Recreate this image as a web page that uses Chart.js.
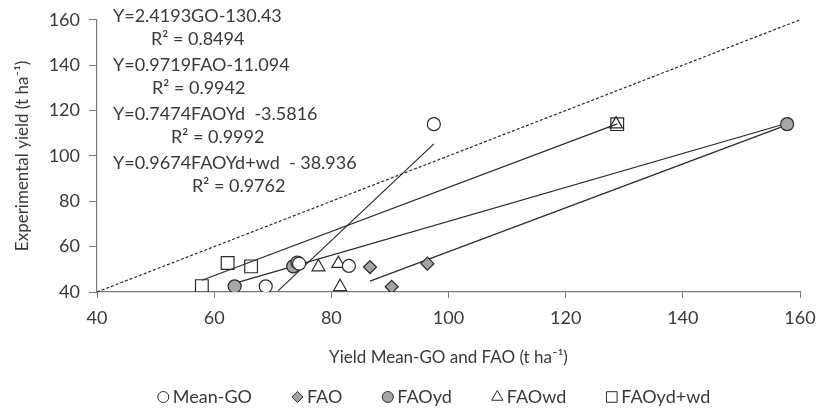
<!DOCTYPE html>
<html>
<head>
<meta charset="utf-8">
<script src="https://cdn.jsdelivr.net/npm/chart.js@4"></script>
<style>
  html, body { margin: 0; padding: 0; background: #fff; }
  #wrap { width: 817px; height: 409px; }
</style>
</head>
<body>
<div id="wrap"><canvas id="chart"></canvas></div>
<script>
// points (x = model yield, y = experimental yield)
const meanGoX = [68.8, 74.5, 83.0, 97.5];
const meanGoY = [42.5, 52.5, 51.5, 114];
const faoX = [86.6, 90.3, 96.4];
const faoY = [51.0, 42.3, 52.5];
const faoYdX = [63.5, 73.5, 74.2, 157.8];
const faoYdY = [42.5, 51.3, 53.0, 114];
const faoWdX = [77.8, 81.2, 81.5, 128.6];
const faoWdY = [51.0, 52.5, 42.3, 114];
const faoYdWdX = [57.9, 62.3, 66.3, 128.8];
const faoYdWdY = [42.6, 52.8, 51.3, 114];

// fitted lines, start/end as drawn
const lineGo = [[70.9, 40.5], [97.5, 105.3]];
const lineFao = [[57.9, 45.2], [128.8, 114.1]];
const lineYd = [[63.0, 43.5], [157.8, 114.4]];
const lineYdWd = [[86.6, 44.8], [157.8, 113.7]];
const line11 = [[40, 40], [160, 160]];

const ticks = [40, 60, 80, 100, 120, 140, 160];

const eqLabels = [
    ['Y=2.4193GO-130.43', 'R\u00b2 = 0.8494', 38],
    ['Y=0.9719FAO-11.094', 'R\u00b2 = 0.9942', 39],
    ['Y=0.7474FAOYd  -3.5816', 'R\u00b2 = 0.9992', 58],
    ['Y=0.9674FAOYd+wd  - 38.936', 'R\u00b2 = 0.9762', 79]
];

const FONT = 'Lato, "Open Sans", sans-serif';
const TXT = '#3a3a3a';
const AXIS = '#7a7a7a';

function pts(xs, ys) {
    return xs.map((x, i) => ({ x: x, y: ys[i] }));
}
function seg(p) {
    return p.map(q => ({ x: q[0], y: q[1] }));
}

function markers(label, data, style, fill, r) {
    return {
        type: 'scatter', label: label, data: data,
        pointStyle: style, pointRadius: r, pointHoverRadius: r,
        backgroundColor: fill, borderColor: '#2b2b2b', borderWidth: 1.2
    };
}
function trend(data, dash) {
    return {
        type: 'line', label: '_trend', data: data,
        borderColor: '#2b2b2b', borderWidth: 1.2, borderDash: dash || [],
        pointRadius: 0, fill: false, showLine: true
    };
}

const eqPlugin = {
    id: 'eqText',
    afterDatasetsDraw(chart) {
        const ctx = chart.ctx;
        const left = chart.chartArea.left;
        ctx.save();
        ctx.font = '18px ' + FONT;
        ctx.fillStyle = TXT;
        ctx.textBaseline = 'middle';
        eqLabels.forEach((e, i) => {
            const y0 = 16 + i * 49;
            ctx.fillText(e[0], left + 16, y0);
            ctx.fillText(e[1], left + 16 + e[2], y0 + 23);
        });
        ctx.restore();
    }
};

// legend drawn by hand so the spacing between entries can follow the original
const legendPlugin = {
    id: 'bottomLegend',
    afterDraw(chart) {
        const ctx = chart.ctx;
        const items = chart.data.datasets.filter(d => d.label !== '_trend');
        const gapIn = 4, gapOut = 40, box = 11;
        ctx.save();
        ctx.font = '18px ' + FONT;
        ctx.textBaseline = 'middle';
        const widths = items.map(d => box + gapIn + ctx.measureText(d.label).width);
        const total = widths.reduce((a, b) => a + b, 0) + gapOut * (items.length - 1);
        let x = 434 - total / 2;
        const y = 397;
        items.forEach((d, i) => {
            ctx.fillStyle = d.backgroundColor;
            ctx.strokeStyle = d.borderColor;
            ctx.lineWidth = 1;
            const r = d.pointStyle === 'rect' ? 7.5 : (d.pointStyle === 'triangle' ? 6.5 : 5.5);
            Chart.helpers.drawPoint(ctx, { pointStyle: d.pointStyle, radius: r, borderWidth: 1, rotation: 0 }, x + box / 2, y);
            ctx.fillStyle = TXT;
            ctx.fillText(d.label, x + box + gapIn, y);
            x += widths[i] + gapOut;
        });
        ctx.restore();
    }
};

function axis(tickLen, pad) {
    return {
        type: 'linear', min: 40, max: 160,
        border: { display: true, color: AXIS, width: 1.2 },
        grid: { drawOnChartArea: false, drawTicks: true, tickLength: tickLen, color: AXIS },
        ticks: {
            stepSize: 20, padding: pad, color: TXT, font: { family: FONT, size: 18 },
            callback: v => ticks.includes(v) ? v : ''
        }
    };
}

new Chart(document.getElementById('chart'), {
    data: {
        datasets: [
            markers('Mean-GO', pts(meanGoX, meanGoY), 'circle', '#ffffff', 6.5),
            markers('FAO', pts(faoX, faoY), 'rectRot', '#a3a3a3', 6.5),
            markers('FAOyd', pts(faoYdX, faoYdY), 'circle', '#a6a6a6', 6.5),
            markers('FAOwd', pts(faoWdX, faoWdY), 'triangle', 'rgba(255,255,255,0)', 7.5),
            markers('FAOyd+wd', pts(faoYdWdX, faoYdWdY), 'rect', 'rgba(255,255,255,0)', 9),
            trend(seg(line11), [3, 2]),
            trend(seg(lineGo)),
            trend(seg(lineFao)),
            trend(seg(lineYd)),
            trend(seg(lineYdWd))
        ]
    },
    options: {
        responsive: true,
        maintainAspectRatio: false,
        animation: false,
        layout: { padding: { top: 8, right: 0, bottom: 33, left: 0 } },
        plugins: {
            legend: { display: false },
            tooltip: { enabled: false }
        },
        scales: {
            x: Object.assign(axis(6, 9), {
                afterFit: s => { s.height = 84; s.paddingRight = 17; },
                title: {
                    display: true, text: 'Yield Mean-GO and FAO (t ha\u207b\u00b9)',
                    color: TXT, font: { family: FONT, size: 17 }, padding: { top: 21, bottom: 8 }
                }
            }),
            y: Object.assign(axis(8, 9), {
                afterFit: s => { s.width = 97; },
                title: {
                    display: true, text: 'Experimental yield (t ha\u207b\u00b9)',
                    color: TXT, font: { family: FONT, size: 17 }, padding: { top: 12, bottom: 0 }
                }
            })
        }
    },
    plugins: [eqPlugin, legendPlugin]
});
</script>
</body>
</html>
